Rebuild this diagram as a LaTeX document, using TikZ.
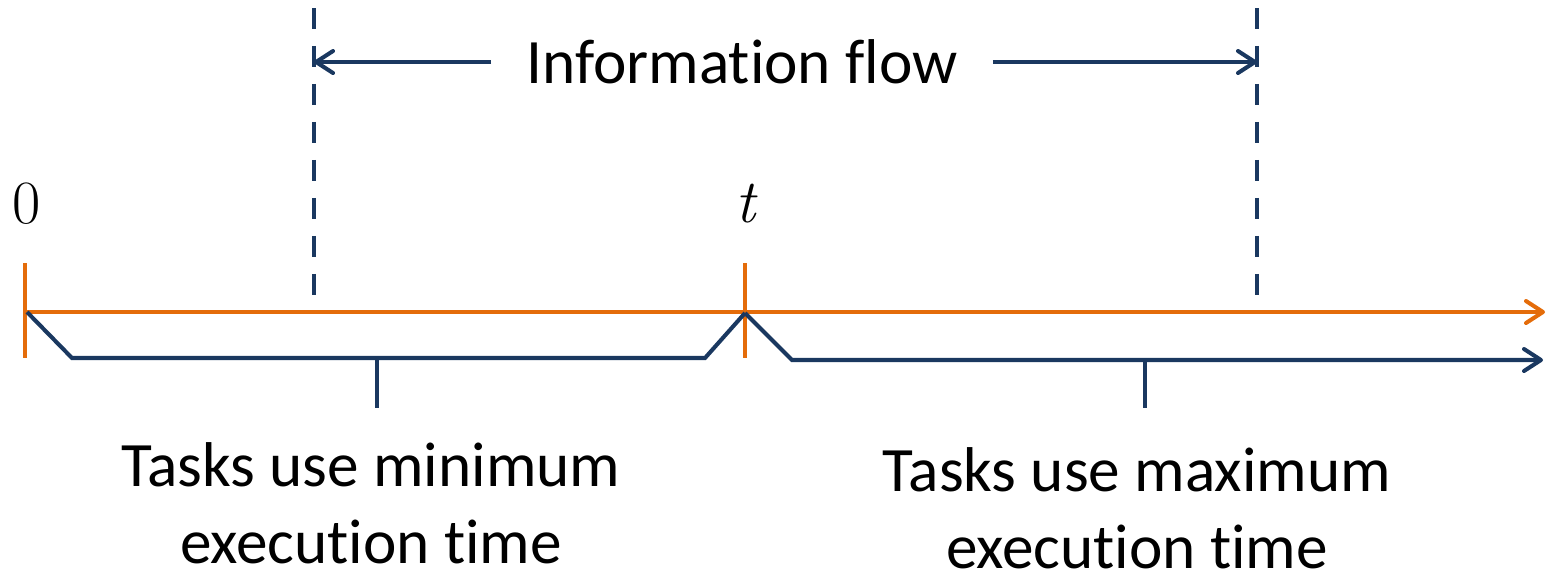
\documentclass[tikz,border=0pt]{standalone}
\usepackage{fontspec}
\setmainfont{Carlito}[Ligatures=NoCommon]
\newfontfamily\lmfont{Latin Modern Roman}
\usetikzlibrary{arrows.meta}
\definecolor{axisorange}{RGB}{228,108,10}
\definecolor{navy}{RGB}{26,56,96}
\begin{document}
\begin{tikzpicture}[x=0.02cm,y=-0.02cm,
  orangeline/.style={draw=axisorange,line width=2.3pt},
  blueline/.style={draw=navy,line width=2.3pt,line join=miter},
  dashline/.style={draw=navy,line width=2.3pt,dash pattern=on 0.42cm off 0.34cm},
  tip/.style={-{Straight Barb[length=0.34cm,width=0.44cm,line cap=round,line join=round]}},
  bigtext/.style={font=\fontsize{36}{44}\selectfont,align=center,inner sep=0pt},
  marklabel/.style={font=\lmfont\fontsize{35}{40}\selectfont,inner sep=0pt}]
\useasboundingbox (0,0) rectangle (1547,576);
% coordinates
\coordinate (d1top) at (314,8);
\coordinate (d1bot) at (314,312);
\coordinate (d2top) at (1257,8);
\coordinate (d2bot) at (1257,312);
\coordinate (a1) at (314,62);
\coordinate (a2) at (1257,62);
\coordinate (ostart) at (25,312);
\coordinate (oend) at (1545,312);
\coordinate (tk0a) at (25,263);
\coordinate (tk0b) at (25,358);
\coordinate (tkta) at (745,263);
\coordinate (tktb) at (745,358);
\coordinate (b0) at (27,312);
\coordinate (b1) at (72,358);
\coordinate (b2) at (705,358);
\coordinate (bpeak) at (745,313);
\coordinate (b3) at (792,360);
\coordinate (bend) at (1543,360);
\coordinate (m1a) at (377,358);
\coordinate (m1b) at (377,408);
\coordinate (m2a) at (1145,360);
\coordinate (m2b) at (1145,408);
% dashed lines
\draw[dashline] (d1top) -- (d1bot);
\draw[dashline] (d2top) -- (d2bot);
% information flow
\node[bigtext,inner xsep=0.7cm] (info) at (742,62) {Information flow};
\draw[navy,line width=2.3pt,tip] (info.west) -- (a1);
\draw[navy,line width=2.3pt,tip] (info.east) -- (a2);
% axis
\draw[orangeline,tip] (ostart) -- (oend);
\draw[orangeline] (tk0a) -- (tk0b);
\draw[orangeline] (tkta) -- (tktb);
% brackets
\draw[blueline] (b0) -- (b1) -- (b2) -- (bpeak);
\draw[blueline,tip] (bpeak) -- (b3) -- (bend);
\draw[blueline] (m1a) -- (m1b);
\draw[blueline] (m2a) -- (m2b);
% labels
\node[marklabel] (zero) at (27,204) {0};
\node[marklabel] (tlab) at (745,204) {\itshape t};
\node[bigtext,text depth=0pt,anchor=south] (left) at (371,564) {Tasks use minimum\\execution time};
\node[bigtext,text depth=0pt,anchor=south] (right) at (1137,569) {Tasks use maximum\\execution time};
\end{tikzpicture}
\end{document}
